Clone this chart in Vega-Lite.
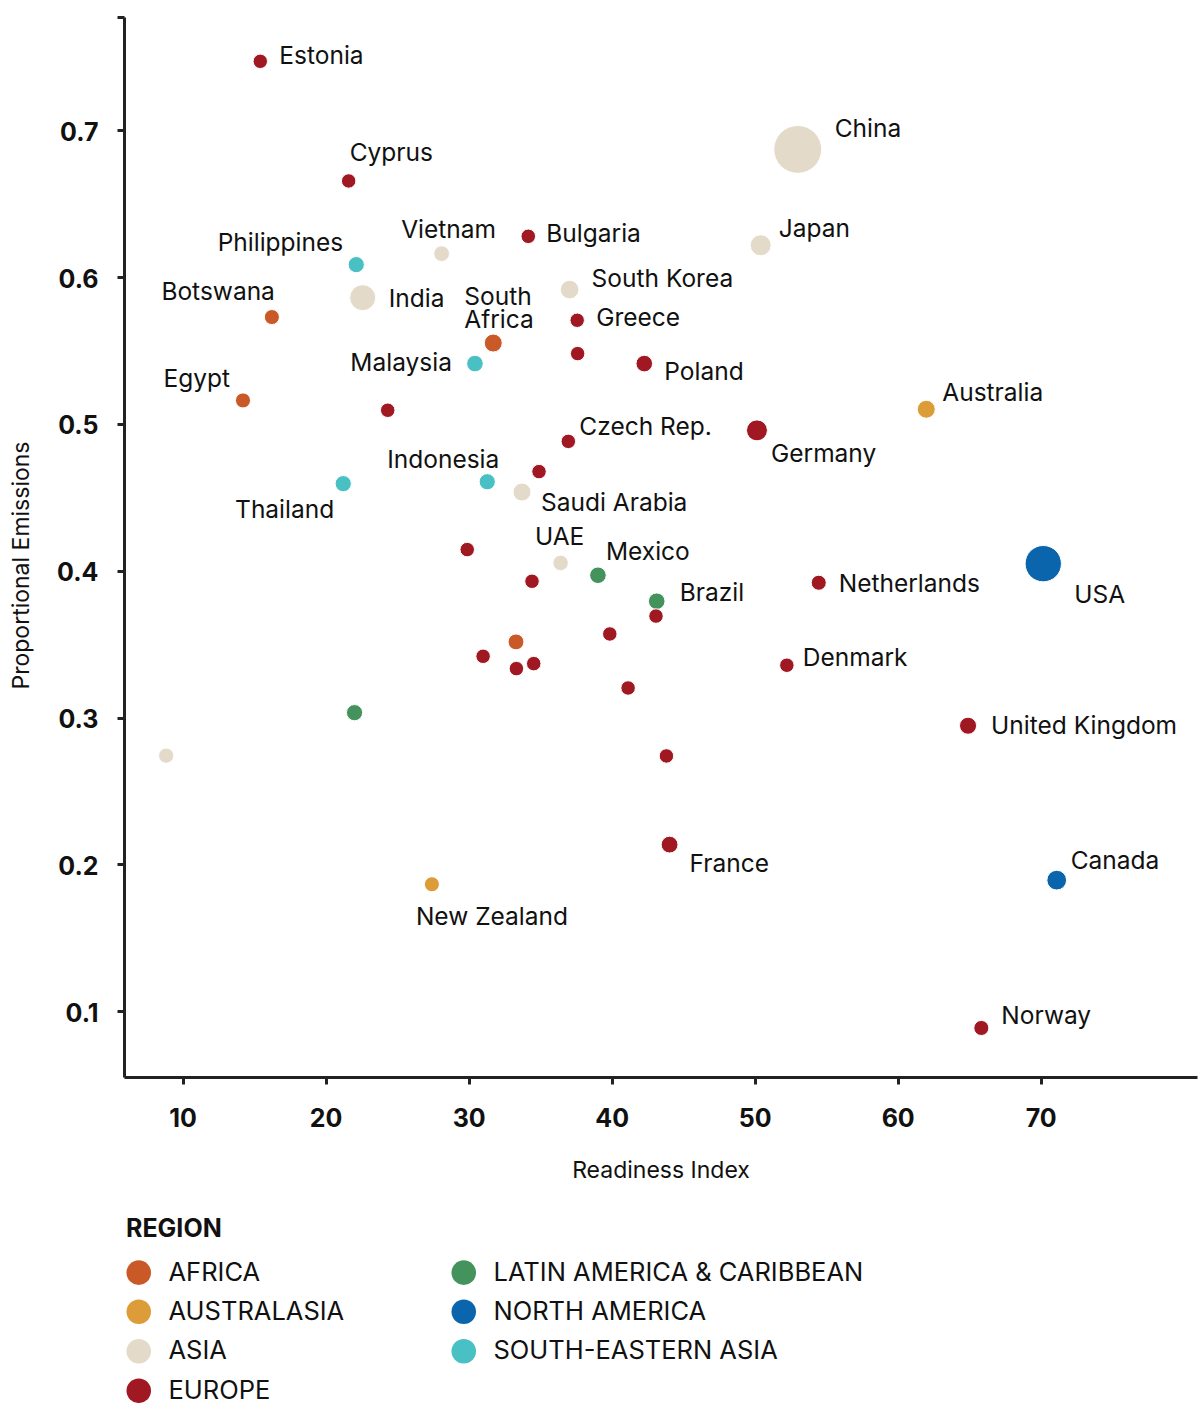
{
  "$schema": "https://vega.github.io/schema/vega-lite/v6.json",
  "width": 1073,
  "height": 1060,
  "autosize": {"type": "none"},
  "padding": {"left": 124, "top": 17, "right": 2, "bottom": 326},
  "background": "white",
  "config": {
    "view": {"stroke": null},
    "font": "Inter",
    "text": {"font": "Inter", "fontSize": 24.5, "color": "#111111", "baseline": "alphabetic"}
  },
  "data": {
    "values": [
      {"country": "Estonia", "region": "Europe", "readiness": 15.43, "emissions": 0.747, "co2": 0.04},
      {"country": "Cyprus", "region": "Europe", "readiness": 21.61, "emissions": 0.6655, "co2": 0.04},
      {"country": "Philippines", "region": "South-Eastern Asia", "readiness": 22.14, "emissions": 0.6085, "co2": 0.3},
      {"country": "India", "region": "Asia", "readiness": 22.59, "emissions": 0.586, "co2": 2.27},
      {"country": "Vietnam", "region": "Asia", "readiness": 28.11, "emissions": 0.616, "co2": 0.22},
      {"country": "Bulgaria", "region": "Europe", "readiness": 34.17, "emissions": 0.6278, "co2": 0.06},
      {"country": "Botswana", "region": "Africa", "readiness": 16.24, "emissions": 0.5728, "co2": 0.13},
      {"country": "South Korea", "region": "Asia", "readiness": 37.06, "emissions": 0.5915, "co2": 0.7},
      {"country": "Japan", "region": "Asia", "readiness": 50.42, "emissions": 0.6217, "co2": 1.15},
      {"country": "China", "region": "Asia", "readiness": 53.01, "emissions": 0.687, "co2": 10},
      {"country": "Greece", "region": "Europe", "readiness": 37.59, "emissions": 0.5706, "co2": 0.04},
      {"country": "South Africa", "region": "Africa", "readiness": 31.72, "emissions": 0.5551, "co2": 0.59},
      {"country": "Unlabelled 1", "region": "Europe", "readiness": 37.62, "emissions": 0.5479, "co2": 0.04},
      {"country": "Poland", "region": "Europe", "readiness": 42.28, "emissions": 0.5411, "co2": 0.36},
      {"country": "Malaysia", "region": "South-Eastern Asia", "readiness": 30.44, "emissions": 0.5411, "co2": 0.36},
      {"country": "Egypt", "region": "Africa", "readiness": 14.22, "emissions": 0.516, "co2": 0.13},
      {"country": "Unlabelled 2", "region": "Europe", "readiness": 24.34, "emissions": 0.5093, "co2": 0.05},
      {"country": "Australia", "region": "Australasia", "readiness": 62.0, "emissions": 0.51, "co2": 0.59},
      {"country": "Germany", "region": "Europe", "readiness": 50.16, "emissions": 0.4956, "co2": 1.15},
      {"country": "Czech Rep.", "region": "Europe", "readiness": 36.97, "emissions": 0.4881, "co2": 0.05},
      {"country": "Unlabelled 3", "region": "Europe", "readiness": 34.92, "emissions": 0.4675, "co2": 0.05},
      {"country": "Indonesia", "region": "South-Eastern Asia", "readiness": 31.3, "emissions": 0.4606, "co2": 0.3},
      {"country": "Thailand", "region": "South-Eastern Asia", "readiness": 21.23, "emissions": 0.4593, "co2": 0.3},
      {"country": "Saudi Arabia", "region": "Asia", "readiness": 33.73, "emissions": 0.4536, "co2": 0.59},
      {"country": "Unlabelled 4", "region": "Europe", "readiness": 29.9, "emissions": 0.4144, "co2": 0.05},
      {"country": "UAE", "region": "Asia", "readiness": 36.43, "emissions": 0.4053, "co2": 0.19},
      {"country": "Mexico", "region": "Latin America & Caribbean", "readiness": 39.04, "emissions": 0.3969, "co2": 0.36},
      {"country": "Unlabelled 5", "region": "Europe", "readiness": 34.43, "emissions": 0.3928, "co2": 0.05},
      {"country": "Brazil", "region": "Latin America & Caribbean", "readiness": 43.15, "emissions": 0.3792, "co2": 0.36},
      {"country": "Unlabelled 6", "region": "Europe", "readiness": 43.1, "emissions": 0.3691, "co2": 0.05},
      {"country": "Netherlands", "region": "Europe", "readiness": 54.48, "emissions": 0.3918, "co2": 0.13},
      {"country": "USA", "region": "North America", "readiness": 70.18, "emissions": 0.4048, "co2": 5.36},
      {"country": "Unlabelled 7", "region": "Europe", "readiness": 39.87, "emissions": 0.3569, "co2": 0.05},
      {"country": "Unlabelled 8", "region": "Africa", "readiness": 33.31, "emissions": 0.3515, "co2": 0.25},
      {"country": "Unlabelled 9", "region": "Europe", "readiness": 31.01, "emissions": 0.3417, "co2": 0.05},
      {"country": "Unlabelled 10", "region": "Europe", "readiness": 33.34, "emissions": 0.3333, "co2": 0.05},
      {"country": "Unlabelled 11", "region": "Europe", "readiness": 34.55, "emissions": 0.3367, "co2": 0.05},
      {"country": "Denmark", "region": "Europe", "readiness": 52.25, "emissions": 0.3356, "co2": 0.05},
      {"country": "Unlabelled 12", "region": "Europe", "readiness": 41.15, "emissions": 0.3201, "co2": 0.05},
      {"country": "Unlabelled 13", "region": "Latin America & Caribbean", "readiness": 22.02, "emissions": 0.3033, "co2": 0.3},
      {"country": "United Kingdom", "region": "Europe", "readiness": 64.92, "emissions": 0.2944, "co2": 0.44},
      {"country": "Unlabelled 14", "region": "Asia", "readiness": 8.85, "emissions": 0.274, "co2": 0.15},
      {"country": "Unlabelled 15", "region": "Europe", "readiness": 43.83, "emissions": 0.2738, "co2": 0.05},
      {"country": "France", "region": "Europe", "readiness": 44.05, "emissions": 0.2134, "co2": 0.4},
      {"country": "New Zealand", "region": "Australasia", "readiness": 27.43, "emissions": 0.1864, "co2": 0.13},
      {"country": "Canada", "region": "North America", "readiness": 71.12, "emissions": 0.1892, "co2": 0.91},
      {"country": "Norway", "region": "Europe", "readiness": 65.85, "emissions": 0.0885, "co2": 0.13}
    ]
  },
  "encoding": {
    "x": {
      "field": "readiness", "type": "quantitative",
      "scale": {"domain": [5.9, 80.93], "nice": false, "zero": false},
      "axis": {
        "title": "Readiness Index",
        "values": [10, 20, 30, 40, 50, 60, 70],
        "grid": false,
        "domainColor": "#222222", "domainWidth": 3,
        "tickColor": "#222222", "tickWidth": 3, "tickSize": 7,
        "labelFont": "Inter", "labelFontWeight": "bold", "labelFontSize": 25, "labelColor": "#111111",
        "labelBaseline": "alphabetic", "labelPadding": 42,
        "titleFont": "Inter", "titleFontSize": 23, "titleFontWeight": "normal", "titleColor": "#111111",
        "titleBaseline": "alphabetic", "titleY": 100, "titleX": 536.5, "titleAlign": "center"
      }
    },
    "y": {
      "field": "emissions", "type": "quantitative",
      "scale": {"domain": [0.0551, 0.7772], "nice": false, "zero": false},
      "axis": {
        "title": "Proportional Emissions",
        "values": [0.1, 0.2, 0.3, 0.4, 0.5, 0.6, 0.7, 0.7772],
        "labelExpr": "datum.value > 0.75 ? '' : format(datum.value, '.1f')",
        "grid": false,
        "domainColor": "#222222", "domainWidth": 3,
        "tickColor": "#222222", "tickWidth": 3, "tickSize": 7,
        "labelFont": "Inter", "labelFontWeight": "bold", "labelFontSize": 25, "labelColor": "#111111",
        "labelBaseline": "alphabetic", "labelOffset": 10, "labelPadding": 19,
        "titleFont": "Inter", "titleFontSize": 23, "titleFontWeight": "normal", "titleColor": "#111111",
        "titleBaseline": "alphabetic", "titleX": -96, "titleY": 548, "titleAlign": "center", "titleAngle": -90
      }
    }
  },
  "layer": [
    {
      "mark": {"type": "circle", "opacity": 1, "stroke": "white", "strokeWidth": 1},
      "encoding": {
        "color": {
          "field": "region", "type": "nominal",
          "scale": {
            "domain": ["Africa", "Australasia", "Asia", "Europe", "Latin America & Caribbean", "North America", "South-Eastern Asia"],
            "range": ["#C95A28", "#DC9D38", "#E3DACA", "#A01822", "#44925C", "#0A65AD", "#48C0C4"]
          },
          "legend": {
            "title": "REGION",
            "orient": "none", "legendX": 2, "legendY": 1200,
            "direction": "vertical", "columns": 2, "columnPadding": 106, "rowPadding": 12.5,
            "padding": 0,
            "titleFont": "Inter", "titleFontWeight": "bold", "titleFontSize": 25, "titleColor": "#111111",
            "titlePadding": 17.5, "titleAnchor": "start",
            "labelFont": "Inter", "labelFontSize": 25.5, "labelColor": "#111111", "labelOffset": 17, "labelLimit": 600,
            "labelExpr": "upper(datum.label)",
            "symbolType": "circle", "symbolSize": 602, "symbolStrokeWidth": 0, "symbolOpacity": 1
          }
        },
        "size": {
          "field": "co2", "type": "quantitative",
          "scale": {"type": "linear", "domain": [0, 10], "range": [200, 2290], "zero": false},
          "legend": null
        }
      }
    },
    {"transform": [{"filter": "datum.country === 'Estonia'"}], "mark": {"type": "text", "align": "left", "dx": 19, "dy": 3}, "encoding": {"text": {"field": "country"}}},
    {"transform": [{"filter": "datum.country === 'Cyprus'"}], "mark": {"type": "text", "align": "left", "dx": 1, "dy": -20}, "encoding": {"text": {"field": "country"}}},
    {"transform": [{"filter": "datum.country === 'Philippines'"}], "mark": {"type": "text", "align": "right", "dx": -13, "dy": -14}, "encoding": {"text": {"field": "country"}}},
    {"transform": [{"filter": "datum.country === 'Vietnam'"}], "mark": {"type": "text", "align": "center", "dx": 7, "dy": -16}, "encoding": {"text": {"field": "country"}}},
    {"transform": [{"filter": "datum.country === 'Bulgaria'"}], "mark": {"type": "text", "align": "left", "dx": 18, "dy": 6}, "encoding": {"text": {"field": "country"}}},
    {"transform": [{"filter": "datum.country === 'Japan'"}], "mark": {"type": "text", "align": "left", "dx": 18, "dy": -8}, "encoding": {"text": {"field": "country"}}},
    {"transform": [{"filter": "datum.country === 'China'"}], "mark": {"type": "text", "align": "left", "dx": 37, "dy": -12}, "encoding": {"text": {"field": "country"}}},
    {"transform": [{"filter": "datum.country === 'Botswana'"}], "mark": {"type": "text", "align": "right", "dx": 3, "dy": -17}, "encoding": {"text": {"field": "country"}}},
    {"transform": [{"filter": "datum.country === 'India'"}], "mark": {"type": "text", "align": "left", "dx": 26, "dy": 9}, "encoding": {"text": {"field": "country"}}},
    {"transform": [{"filter": "datum.country === 'South Africa'"}], "mark": {"type": "text", "align": "left", "dx": -29, "dy": -38, "lineBreak": " ", "lineHeight": 23}, "encoding": {"text": {"field": "country"}}},
    {"transform": [{"filter": "datum.country === 'South Korea'"}], "mark": {"type": "text", "align": "left", "dx": 22, "dy": -3}, "encoding": {"text": {"field": "country"}}},
    {"transform": [{"filter": "datum.country === 'Greece'"}], "mark": {"type": "text", "align": "left", "dx": 19, "dy": 6}, "encoding": {"text": {"field": "country"}}},
    {"transform": [{"filter": "datum.country === 'Malaysia'"}], "mark": {"type": "text", "align": "right", "dx": -23, "dy": 7}, "encoding": {"text": {"field": "country"}}},
    {"transform": [{"filter": "datum.country === 'Poland'"}], "mark": {"type": "text", "align": "left", "dx": 20, "dy": 16}, "encoding": {"text": {"field": "country"}}},
    {"transform": [{"filter": "datum.country === 'Egypt'"}], "mark": {"type": "text", "align": "right", "dx": -13, "dy": -13}, "encoding": {"text": {"field": "country"}}},
    {"transform": [{"filter": "datum.country === 'Australia'"}], "mark": {"type": "text", "align": "left", "dx": 16, "dy": -8}, "encoding": {"text": {"field": "country"}}},
    {"transform": [{"filter": "datum.country === 'Germany'"}], "mark": {"type": "text", "align": "left", "dx": 14, "dy": 32}, "encoding": {"text": {"field": "country"}}},
    {"transform": [{"filter": "datum.country === 'Czech Rep.'"}], "mark": {"type": "text", "align": "left", "dx": 11, "dy": -6}, "encoding": {"text": {"field": "country"}}},
    {"transform": [{"filter": "datum.country === 'Indonesia'"}], "mark": {"type": "text", "align": "center", "dx": -44, "dy": -14}, "encoding": {"text": {"field": "country"}}},
    {"transform": [{"filter": "datum.country === 'Thailand'"}], "mark": {"type": "text", "align": "right", "dx": -9, "dy": 34}, "encoding": {"text": {"field": "country"}}},
    {"transform": [{"filter": "datum.country === 'Saudi Arabia'"}], "mark": {"type": "text", "align": "left", "dx": 19, "dy": 19}, "encoding": {"text": {"field": "country"}}},
    {"transform": [{"filter": "datum.country === 'UAE'"}], "mark": {"type": "text", "align": "center", "dx": -1, "dy": -18}, "encoding": {"text": {"field": "country"}}},
    {"transform": [{"filter": "datum.country === 'Mexico'"}], "mark": {"type": "text", "align": "left", "dx": 8, "dy": -15}, "encoding": {"text": {"field": "country"}}},
    {"transform": [{"filter": "datum.country === 'Brazil'"}], "mark": {"type": "text", "align": "left", "dx": 23, "dy": 0}, "encoding": {"text": {"field": "country"}}},
    {"transform": [{"filter": "datum.country === 'Netherlands'"}], "mark": {"type": "text", "align": "left", "dx": 20, "dy": 9}, "encoding": {"text": {"field": "country"}}},
    {"transform": [{"filter": "datum.country === 'USA'"}], "mark": {"type": "text", "align": "left", "dx": 31, "dy": 39}, "encoding": {"text": {"field": "country"}}},
    {"transform": [{"filter": "datum.country === 'Denmark'"}], "mark": {"type": "text", "align": "left", "dx": 16, "dy": 1}, "encoding": {"text": {"field": "country"}}},
    {"transform": [{"filter": "datum.country === 'United Kingdom'"}], "mark": {"type": "text", "align": "left", "dx": 23, "dy": 8}, "encoding": {"text": {"field": "country"}}},
    {"transform": [{"filter": "datum.country === 'France'"}], "mark": {"type": "text", "align": "left", "dx": 20, "dy": 27}, "encoding": {"text": {"field": "country"}}},
    {"transform": [{"filter": "datum.country === 'New Zealand'"}], "mark": {"type": "text", "align": "left", "dx": -16, "dy": 41}, "encoding": {"text": {"field": "country"}}},
    {"transform": [{"filter": "datum.country === 'Canada'"}], "mark": {"type": "text", "align": "left", "dx": 14, "dy": -11}, "encoding": {"text": {"field": "country"}}},
    {"transform": [{"filter": "datum.country === 'Norway'"}], "mark": {"type": "text", "align": "left", "dx": 20, "dy": -4}, "encoding": {"text": {"field": "country"}}}
  ]
}
